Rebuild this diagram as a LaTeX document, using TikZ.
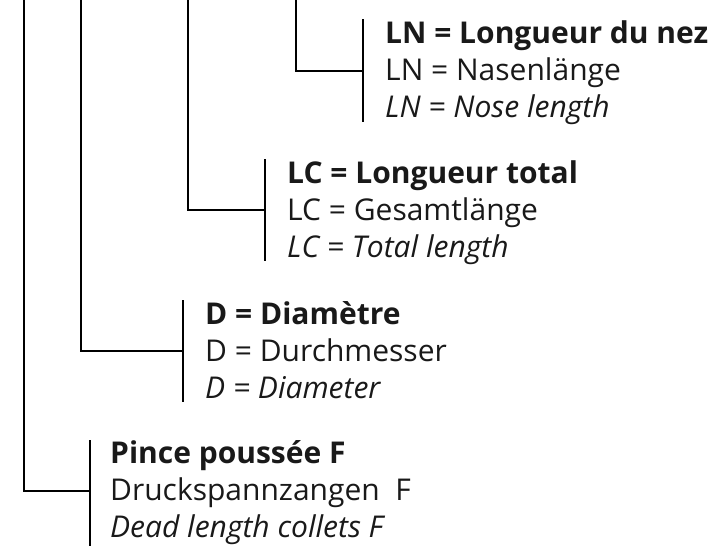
\documentclass[tikz,border=0pt]{standalone}
\usepackage{fontspec}
\setmainfont{Open Sans}
\begin{document}
\begin{tikzpicture}[x=1pt,y=-1pt,
  lbl/.style={anchor=base west,inner sep=0pt,text=black!90,font=\fontsize{30}{36}\selectfont},
  bld/.style={lbl,font=\fontsize{30}{36}\selectfont\bfseries},
  itl/.style={lbl,font=\fontsize{30}{36}\selectfont\itshape},
  wire/.style={draw=black,line width=2.6pt,line cap=butt}]
\useasboundingbox (0,0) rectangle (716,546);
% LN group
\node[bld] (ln1) at (385,43) {LN = Longueur du nez};
\node[lbl] (ln2) at (385,80) {LN = Nasenlänge};
\node[itl] (ln3) at (385,117) {LN = Nose length};
% LC group
\node[bld] (lc1) at (287,183) {LC = Longueur total};
\node[lbl] (lc2) at (287,220) {LC = Gesamtlänge};
\node[itl] (lc3) at (287,257) {LC = Total length};
% D group
\node[bld] (d1) at (205,324) {D = Diamètre};
\node[lbl] (d2) at (205,361) {D = Durchmesser};
\node[itl] (d3) at (205,398) {D = Diameter};
% F group
\node[bld] (f1) at (110,463) {Pince poussée F};
\node[lbl] (f2) at (110,500) {Druckspannzangen\ \ F};
\node[itl] (f3) at (110,537) {Dead length collets F};
% brackets
\coordinate (lnT) at (363,19);  \coordinate (lnB) at (363,122); \coordinate (lnM) at (363,71);
\coordinate (lcT) at (265,159); \coordinate (lcB) at (265,261); \coordinate (lcM) at (265,210);
\coordinate (dT) at (183,300);  \coordinate (dB) at (183,402);  \coordinate (dM) at (183,351);
\coordinate (fT) at (90,440);   \coordinate (fB) at (90,546);   \coordinate (fM) at (90,491);
\draw[wire] (lnT) -- (lnB);
\draw[wire] (lcT) -- (lcB);
\draw[wire] (dT) -- (dB);
\draw[wire] (fT) -- (fB);
% tree stems
\coordinate (s1) at (296,0);
\coordinate (s2) at (188,0);
\coordinate (s3) at (81,0);
\coordinate (s4) at (24,0);
\draw[wire] (s1) |- (lnM);
\draw[wire] (s2) |- (lcM);
\draw[wire] (s3) |- (dM);
\draw[wire] (s4) |- (fM);
\end{tikzpicture}
\end{document}
